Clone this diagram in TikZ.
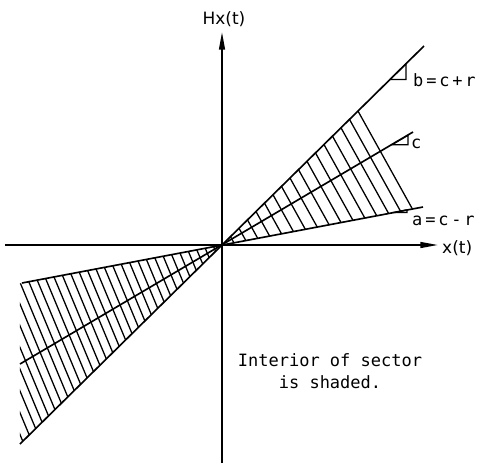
\documentclass[tikz,border=0pt]{standalone}
\usepackage{fontspec}
\setmainfont{DejaVu Sans}
\newfontfamily\schablone{DejaVu Sans Mono}
\usetikzlibrary{arrows.meta, calc}

\begin{document}
\begin{tikzpicture}[
		x=0.03cm, y=0.03cm,
		>={Triangle[length=15pt, width=5pt]}, % schmale Pfeilspitzen
		every node/.style={font=\fontsize{14.5}{18.8}\selectfont, inner sep=0pt},
		beschriftung/.style={font=\schablone\fontsize{14.5}{18.8}\selectfont},
		achse/.style={line width=1.4pt},
		gerade/.style={line width=1.4pt},
		schraffur/.style={line width=1.1pt},
		marke/.style={line width=1pt}
		]
		\useasboundingbox (-222,-220) rectangle (255,245);
		
		% 0. Ursprung und Endpunkte der Geraden
		\coordinate (O) at (0,0);
		\coordinate (bO) at (202,199);
		\coordinate (bU) at (-202,-199);
		\coordinate (cO) at (191,113);
		\coordinate (cU) at (-202,-119);
		\coordinate (aO) at (201,38);
		\coordinate (aU) at (-200,-38);
		
		% 1. Achsen
		\coordinate (xL) at (-217,0);
		\coordinate (xR) at (216,0);
		\coordinate (yU) at (0,-218);
		\coordinate (yO) at (0,213);
		\draw[achse,->] (xL) -- (xR);
		\draw[achse,->] (yU) -- (yO);
		\node[anchor=west] (xlab) at ($(xR)+(4,-3)$) {x(t)};
		\node (ylab) at (2,226) {Hx(t)};
		
		% 2. Schraffur oben rechts
		\foreach \k in {1,...,16} {
			\draw[schraffur] ({8.5*\k},{0.985*8.5*\k}) -- ({1.3995*8.5*\k},{0.19*1.3995*8.5*\k});
		}
		
		% 3. Schraffur unten links
		\begin{scope}
			\clip (-202,-250) rectangle (0,0);
			\foreach \k in {1,...,31} {
				\draw[schraffur] ({-8.4*\k},{-0.19*8.4*\k}) -- ({-0.765*8.4*\k},{-0.985*0.765*8.4*\k});
			}
		\end{scope}
		
		% 4. Geraden a, c, b
		\draw[gerade] (bU) -- (bO);
		\draw[gerade] (cU) -- (cO);
		\draw[gerade] (aU) -- (aO);
		
		% 5. Steigungsdreiecke und Beschriftung
		\coordinate (mb1) at (168,165.5);
		\coordinate (mb2) at (184,181.2);
		\draw[marke] (mb1) -- (mb2) |- (mb1);
		\node[beschriftung, anchor=west] (blab) at (191,165) {b\,=\,c\,+\,r};
		
		\coordinate (mc1) at (170,100.3);
		\coordinate (mc2) at (186,109.7);
		\draw[marke] (mc1) -- (mc2) |- (mc1);
		\node[beschriftung, anchor=west] (clab) at (189,101) {c};
		
		\coordinate (ma1) at (171,32.5);
		\coordinate (ma2) at (185,35.2);
		\draw[marke] (ma1) -- (ma2) |- (ma1);
		\node[beschriftung, anchor=west] (alab) at (190,24) {a\,=\,c\,-\,r};
		
		% 6. Hinweis
		\node[beschriftung, align=center] (hinweis) at (108,-126) {
			Interior of sector \\
			is shaded.
		};
		
	\end{tikzpicture}
\end{document}
